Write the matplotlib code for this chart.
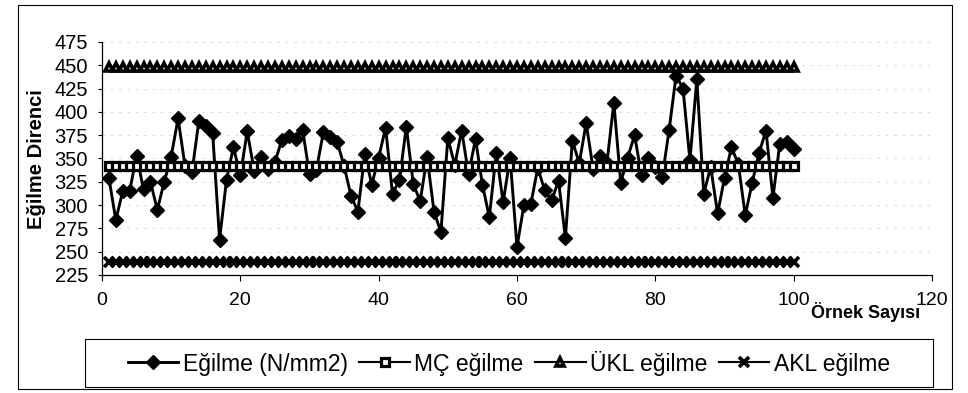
import matplotlib
matplotlib.use("Agg")
import matplotlib.pyplot as plt
from matplotlib.patches import Rectangle

plt.rcParams['font.family'] = ['Liberation Sans', 'DejaVu Sans']

# Bending strength per sample (N/mm2)
sample_no = list(range(1, 101))
egilme = [
    329, 284, 315, 315, 353, 317, 325, 295, 325, 352,
    393, 342, 335, 390, 385, 377, 263, 327, 362, 332,
    379, 337, 352, 339, 346, 370, 374, 371, 381, 333,
    338, 378, 373, 368, 342, 310, 293, 355, 322, 351,
    383, 312, 327, 384, 323, 304, 352, 293, 271, 372,
    343, 380, 333, 371, 322, 287, 356, 303, 351, 255,
    300, 301, 340, 316, 305, 326, 265, 369, 345, 388,
    339, 353, 345, 410, 324, 351, 375, 332, 351, 341,
    330, 381, 439, 425, 348, 435, 312, 341, 291, 329,
    362, 344, 289, 324, 356, 380, 308, 366, 368, 360,
]
mc_value = 342    # centre line
ukl_value = 448   # upper control limit
akl_value = 239   # lower control limit

series_names = ["Eğilme (N/mm2)", "MÇ eğilme", "ÜKL eğilme", "AKL eğilme"]
y_ticks = [225, 250, 275, 300, 325, 350, 375, 400, 425, 450, 475]
x_ticks = [0, 20, 40, 60, 80, 100, 120]
y_title = "Eğilme Direnci"
x_title = "Örnek Sayısı"

W, H = 968, 393
fig = plt.figure(figsize=(W / 100, H / 100), dpi=100)
fig.patch.set_facecolor("white")

ax = fig.add_axes([102 / W, 1 - 275 / H, 830 / W, 233 / H])

mc = [mc_value] * len(sample_no)
ukl = [ukl_value] * len(sample_no)
akl = [akl_value] * len(sample_no)

l1, = ax.plot(sample_no, egilme, color="black", lw=2.1, marker="D", ms=7.5,
              mfc="black", mec="black", mew=1, zorder=3, clip_on=False)
l2, = ax.plot(sample_no, mc, color="black", lw=1.5, marker="s", ms=5.2,
              mfc="white", mec="black", mew=2.3, zorder=4, clip_on=False)
l3, = ax.plot(sample_no, ukl, color="black", lw=1.5, marker="^", ms=6.2,
              mfc="white", mec="black", mew=2.6, zorder=4, clip_on=False)
l4, = ax.plot(sample_no, akl, color="black", lw=1.5, marker="x", ms=7.5,
              mec="black", mew=2.6, zorder=4, clip_on=False)

ax.set_xlim(0, 120)
ax.set_ylim(225, 475)
ax.set_xticks(x_ticks)
ax.set_yticks(y_ticks)
ax.tick_params(axis="x", direction="out", length=4, width=0.8, pad=8.5,
               labelsize=14)
ax.tick_params(axis="y", direction="out", length=3, width=0.8, pad=7,
               labelsize=14.5)
for side in ("top", "right"):
    ax.spines[side].set_visible(False)
for side in ("left", "bottom"):
    ax.spines[side].set_linewidth(0.9)
ax.yaxis.grid(True, color="#d4d4d4", linestyle=(0, (3, 7)), lw=0.6)
ax.set_axisbelow(True)

fig.text(37 / W, 1 - 159 / H, y_title, rotation=90, ha="center", va="center",
         fontsize=14.5, fontweight="bold")
fig.text(866 / W, 1 - 318 / H, x_title, ha="center", va="baseline",
         fontsize=13, fontweight="bold")

# chart border
fig.patches.append(Rectangle((18 / W, 1 - 389 / H), 934 / W, 384 / H,
                             transform=fig.transFigure, fill=False,
                             edgecolor="black", lw=0.8))
# legend border
fig.patches.append(Rectangle((85 / W, 1 - 387 / H), 848 / W, 48 / H,
                             transform=fig.transFigure, fill=False,
                             edgecolor="black", lw=0.8))

fig.legend([l1, l2, l3, l4], series_names, loc="center",
           bbox_to_anchor=(509 / W, 1 - 363 / H), ncol=4, frameon=False,
           fontsize=16.5, handlelength=2.2, handletextpad=0.2,
           columnspacing=0.5, borderpad=0.1, numpoints=1)

fig.savefig("out.png", dpi=100, facecolor="white")
